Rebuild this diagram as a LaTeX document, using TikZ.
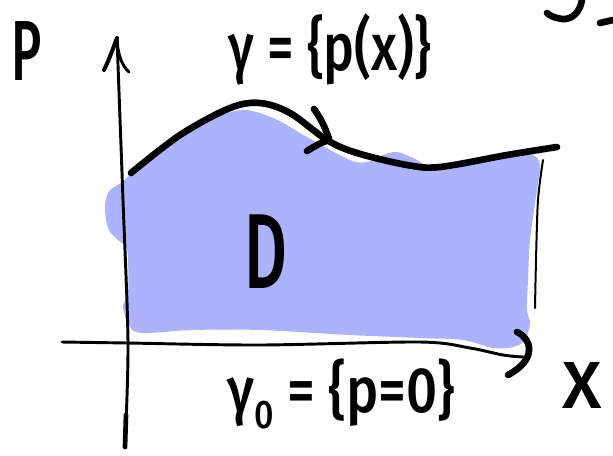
\documentclass[tikz,border=0pt]{standalone}
\usepackage{fontspec}
\setmainfont{Fira Sans}[BoldFont={Fira Sans Medium}]
\definecolor{regionblue}{RGB}{171,179,255}
\begin{document}
\begin{tikzpicture}[x=0.75pt,y=-0.75pt,
  ink/.style={draw=black,line cap=round,line join=round},
  thickink/.style={ink,line width=5pt},
  axisink/.style={ink,line width=2.2pt},
  thinink/.style={ink,line width=1.5pt},
  label/.style={inner sep=0pt,anchor=base,text=black}]
\useasboundingbox (0,0) rectangle (613,455);

% shaded region D
\fill[regionblue] plot[smooth cycle,tension=0.55] coordinates {
  (122,182) (160,150) (200,125) (240,110) (273,118) (307,137) (350,160)
  (367,162) (383,155) (397,152) (413,158) (440,170) (480,162) (507,153)
  (533,155) (540,166) (537,190) (530,240) (528,280) (527,310) (530,323)
  (525,340) (513,347) (493,348) (463,340) (420,338) (350,335) (260,330)
  (193,330) (143,333) (130,327) (123,307) (128,293) (128,260) (126,247)
  (118,240) (108,228) (105,205) (110,190)};

% vertical axis with arrow
\draw[axisink] plot[smooth,tension=0.5] coordinates {(125,447) (128,343) (123,200) (117,38)};
\draw[ink,line width=3.5pt] (125,447) -- (126,415);
\draw[axisink,line width=3pt] (104,70) .. controls (110,58) and (113,48) .. (117,38);
\draw[axisink] (117,40) .. controls (118,55) and (122,66) .. (129,72);

% horizontal axis with arrow
\draw[axisink] plot[smooth,tension=0.5] coordinates {(62,342) (128,343) (260,345) (420,342) (470,348) (503,355) (523,357)};
\draw[thickink] (517,332) .. controls (533,340) and (536,360) .. (508,375);

% right boundary line
\draw[thinink] plot[smooth,tension=0.5] coordinates {(543,160) (538,200) (536,260) (535,308)};

% curve gamma with arrow
\draw[thickink] plot[smooth,tension=0.55] coordinates {(131,173) (180,135) (230,108) (260,103) (290,113) (327,140) (357,153) (407,165) (440,167) (507,155) (557,147)};
\draw[thickink] (314,109) .. controls (322,120) and (326,130) .. (329,139);
\draw[thickink] (307,151) .. controls (315,146) and (322,142) .. (329,140);

% partial glyph at top right
\draw[thickink] (582,0) .. controls (580,12) and (572,20) .. (562,19) .. controls (555,18) and (550,16) .. (547,13);
\draw[thickink] (600,23) -- (613,20);

% labels
\node[label,font=\bfseries\fontsize{64}{70}\selectfont,xscale=0.6] (plabel) at (27,80) {P};
\node[label,font=\bfseries\fontsize{50}{60}\selectfont,xscale=0.78] (gammalabel) at (330,70) {γ = \{p(x)\}};
\node[label,font=\bfseries\fontsize{80}{90}\selectfont,xscale=0.62] (dlabel) at (266,288) {D};
\node[label,font=\bfseries\fontsize{48}{56}\selectfont,xscale=0.85] (gammazerolabel) at (341,412) {γ\raisebox{-0.25em}{\fontsize{30}{36}\selectfont 0} = \{p=0\}};
\node[label,font=\bfseries\fontsize{50}{60}\selectfont,xscale=1.05] (xlabel) at (582,408) {X};
\end{tikzpicture}
\end{document}
